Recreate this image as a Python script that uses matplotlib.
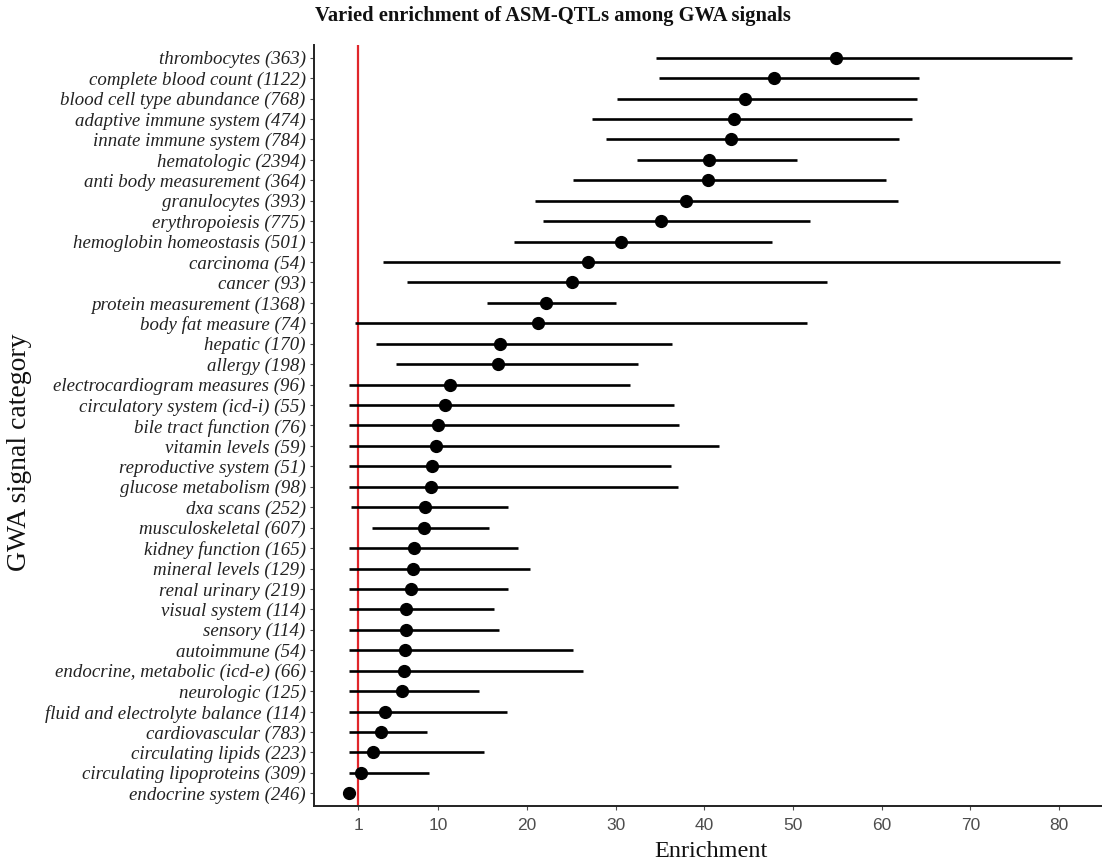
import matplotlib
matplotlib.use("Agg")
import matplotlib.pyplot as plt

categories = [
    "thrombocytes (363)", "complete blood count (1122)", "blood cell type abundance (768)",
    "adaptive immune system (474)", "innate immune system (784)", "hematologic (2394)",
    "anti body measurement (364)", "granulocytes (393)", "erythropoiesis (775)",
    "hemoglobin homeostasis (501)", "carcinoma (54)", "cancer (93)",
    "protein measurement (1368)", "body fat measure (74)", "hepatic (170)",
    "allergy (198)", "electrocardiogram measures (96)", "circulatory system (icd-i) (55)",
    "bile tract function (76)", "vitamin levels (59)", "reproductive system (51)",
    "glucose metabolism (98)", "dxa scans (252)", "musculoskeletal (607)",
    "kidney function (165)", "mineral levels (129)", "renal urinary (219)",
    "visual system (114)", "sensory (114)", "autoimmune (54)",
    "endocrine, metabolic (icd-e) (66)", "neurologic (125)",
    "fluid and electrolyte balance (114)", "cardiovascular (783)",
    "circulating lipids (223)", "circulating lipoproteins (309)", "endocrine system (246)",
]
enrichment = [54.9, 47.9, 44.6, 43.4, 43.0, 40.5, 40.4, 37.9, 35.1, 30.6,
              26.9, 25.1, 22.2, 21.3, 17.0, 16.7, 11.3, 10.8, 10.0, 9.8,
              9.3, 9.2, 8.5, 8.4, 7.3, 7.2, 6.9, 6.4, 6.4, 6.3,
              6.2, 5.9, 4.0, 3.6, 2.7, 1.3, 0.0]
ci_low = [34.6, 34.9, 30.2, 27.3, 28.9, 32.4, 25.2, 20.9, 21.8, 18.6,
          3.8, 6.5, 15.5, 0.6, 3.0, 5.3, 0.0, 0.0, 0.0, 0.0,
          0.0, 0.0, 0.2, 2.5, 0.0, 0.0, 0.0, 0.0, 0.0, 0.0,
          0.0, 0.0, 0.0, 0.0, 0.0, 0.0, 0.0]
ci_high = [81.5, 64.2, 64.0, 63.4, 62.0, 50.5, 60.5, 61.8, 51.9, 47.6,
           80.1, 53.8, 30.1, 51.6, 36.4, 32.5, 31.6, 36.6, 37.2, 41.7,
           36.3, 37.0, 17.9, 15.7, 19.0, 20.4, 17.9, 16.3, 16.9, 25.2,
           26.3, 14.6, 17.8, 8.7, 15.2, 9.0, 0.0]
xticks = [1, 10, 20, 30, 40, 50, 60, 70, 80]

W, H = 1102, 863
fig = plt.figure(figsize=(W / 100, H / 100), dpi=100)
ax = fig.add_axes([314 / W, 1 - 805.5 / H, (W - 314) / W, (805.5 - 45.5) / H])

n = len(categories)
ypos = [n - i for i in range(n)]

ax.axvline(1, color="#e0262b", lw=1.6, zorder=1)
ax.hlines(ypos, ci_low, ci_high, color="black", lw=1.9, zorder=2)
ax.plot(enrichment, ypos, "o", color="black", ms=8.5, zorder=3)

ax.set_xlim(-4.0, 84.84)
ax.set_ylim(0.4, n + 0.6)
ax.set_yticks(ypos)
ax.set_yticklabels(categories, family="Liberation Serif", style="italic",
                   fontsize=13.6, color="#222222")
ax.set_xticks(xticks)
ax.set_xticklabels([str(t) for t in xticks], family="Liberation Sans",
                   fontsize=12.5, color="#4d4d4d")
ax.tick_params(axis="both", colors="#4d4d4d", length=3, width=0.8)
ax.tick_params(axis="x", pad=6, labelcolor="#4d4d4d")
ax.tick_params(axis="y", pad=3, labelcolor="#222222")

for s in ["top", "right"]:
    ax.spines[s].set_visible(False)
for s in ["left", "bottom"]:
    ax.spines[s].set_linewidth(1.4)
    ax.spines[s].set_color("#222222")

fig.text(553 / W, 1 - 16 / H, "Varied enrichment of ASM-QTLs among GWA signals",
         ha="center", va="center", family="Liberation Serif", weight="bold",
         fontsize=14.8, color="#111111")
fig.text(711 / W, 1 - 851 / H, "Enrichment", ha="center", va="center",
         family="Liberation Serif", fontsize=17.5, color="#111111")
fig.text(20 / W, 1 - 452 / H, "GWA signal category", ha="center", va="center",
         rotation=90, family="Liberation Serif", fontsize=20, color="#111111")

fig.savefig("out.png", dpi=100)
